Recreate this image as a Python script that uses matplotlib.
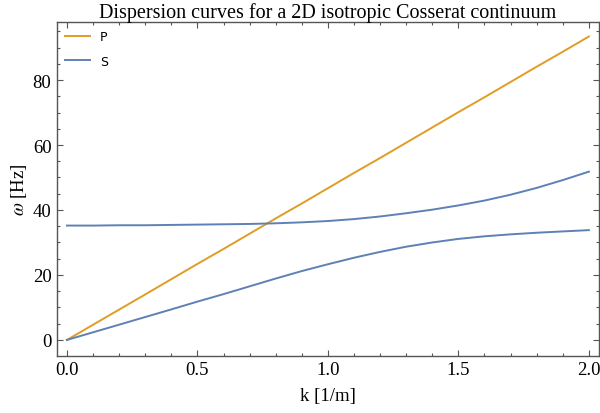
import matplotlib
matplotlib.use('Agg')
import matplotlib.pyplot as plt
from matplotlib.ticker import MultipleLocator

# Data
k = [0.0, 0.1, 0.2, 0.3, 0.4, 0.5, 0.6, 0.7, 0.8, 0.9, 1.0,
     1.1, 1.2, 1.3, 1.4, 1.5, 1.6, 1.7, 1.8, 1.9, 2.0]
p_wave = [0.0, 4.67, 9.34, 14.0, 18.7, 23.4, 28.0, 32.7, 37.4, 42.0, 46.7,
          51.4, 56.0, 60.7, 65.4, 70.1, 74.7, 79.4, 84.1, 88.7, 93.4]
s_upper = [35.2, 35.2, 35.3, 35.3, 35.4, 35.5, 35.6, 35.7, 35.9, 36.2, 36.6,
           37.2, 38.0, 39.0, 40.1, 41.4, 42.9, 44.7, 46.8, 49.2, 51.8]
s_lower = [0.0, 2.35, 4.7, 7.05, 9.4, 11.8, 14.1, 16.5, 18.9, 21.2, 23.3,
           25.3, 27.1, 28.7, 30.0, 31.1, 31.9, 32.5, 33.0, 33.4, 33.8]

orange = '#E19C24'
blue = '#5E81B5'
frame = '#555555'

plt.rcParams['font.family'] = ['Liberation Serif', 'DejaVu Serif']
plt.rcParams['mathtext.fontset'] = 'stix'

fig = plt.figure(figsize=(6, 4.14), dpi=100)
ax = fig.add_axes([0.095, 0.138, 0.903, 0.806])

ax.plot(k, p_wave, color=orange, lw=1.4, label='P')
ax.plot(k, s_upper, color=blue, lw=1.4, label='S')
ax.plot(k, s_lower, color=blue, lw=1.4)

ax.set_xlim(-0.038, 2.038)
ax.set_ylim(-4.9, 97.8)
ax.xaxis.set_major_locator(MultipleLocator(0.5))
ax.xaxis.set_minor_locator(MultipleLocator(0.1))
ax.yaxis.set_major_locator(MultipleLocator(20))
ax.yaxis.set_minor_locator(MultipleLocator(5))
ax.set_xticks([0.0, 0.5, 1.0, 1.5, 2.0])
ax.set_xticklabels(['0.0', '0.5', '1.0', '1.5', '2.0'])

ax.tick_params(which='both', direction='in', top=True, right=True,
               color=frame, labelsize=13.5, width=0.8, pad=4)
ax.tick_params(which='major', length=4)
ax.tick_params(which='minor', length=2.5)
for s in ax.spines.values():
    s.set_color(frame)
    s.set_linewidth(1.0)

ax.set_title('Dispersion curves for a 2D isotropic Cosserat continuum',
             fontsize=14.5, pad=1)
ax.set_xlabel('k [1/m]', fontsize=13.5, labelpad=6)
ax.set_ylabel(r'$\omega$ [Hz]', fontsize=13.5, labelpad=3)

ax.legend(loc='upper left', frameon=False, prop={'family': 'DejaVu Sans', 'size': 9},
          handlelength=2.0, handletextpad=0.8, labelspacing=0.9,
          borderaxespad=0.25)

fig.savefig('out.png', dpi=100)
